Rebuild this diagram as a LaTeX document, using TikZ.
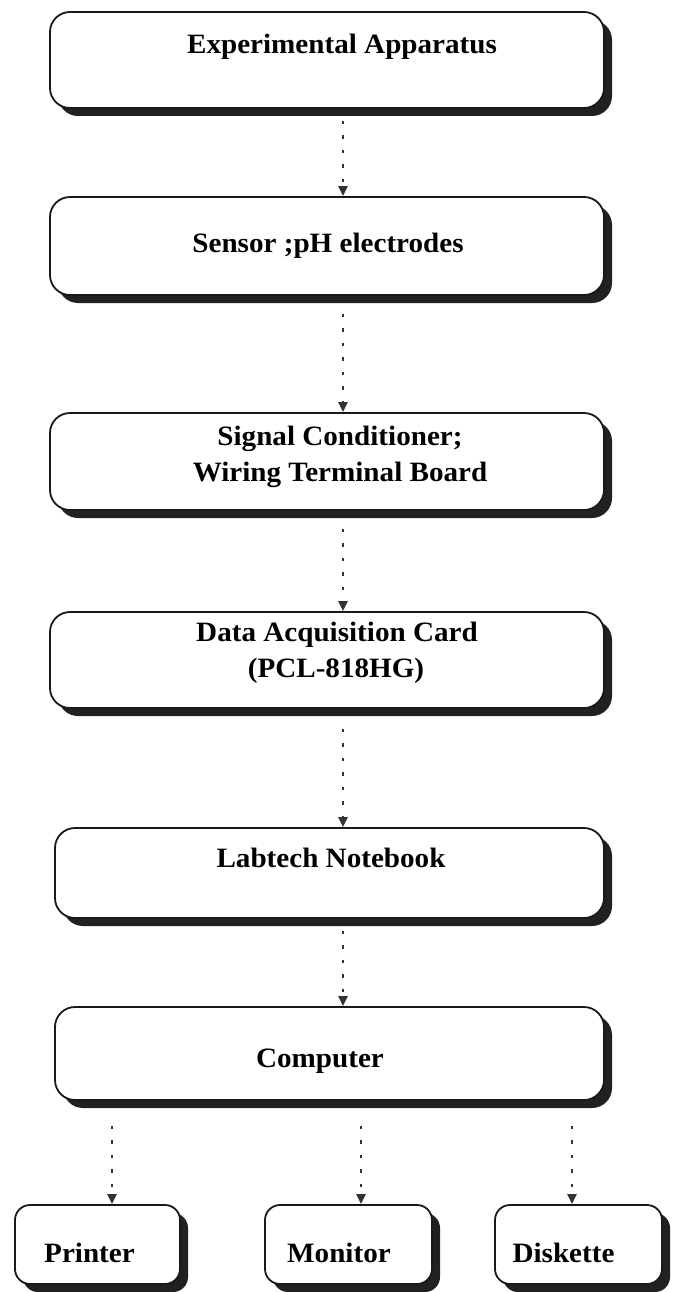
\documentclass[tikz,border=0pt]{standalone}
\usepackage{fontspec}
\setmainfont{Liberation Serif}[FakeStretch=1.04]
\usetikzlibrary{arrows.meta,shadows,calc}

% text line placed relative to the node centre: #1 = right shift,
% #2 = baseline raise, #3 = the text (takes no room of its own)
\newcommand{\boxtext}[3]{\makebox[0pt][l]{\hspace*{#1}\makebox[0pt]{\raisebox{#2}[0pt][0pt]{#3}}}}

\tikzset{
  box/.style={draw=black!90, line width=1.8pt, fill=white, rounded corners=20pt,
    inner sep=0pt, font=\bfseries\fontsize{28}{36}\selectfont,
    general shadow={fill=black!87, shadow xshift=8pt, shadow yshift=-8pt}},
  smallbox/.style={box, rounded corners=15pt},
  flow/.style={line width=2.4pt, draw=black!80, dash pattern=on 3.5pt off 11pt,
    -{Triangle[length=10pt,width=9pt]}},
}

\begin{document}
\begin{tikzpicture}[x=1pt,y=-1pt]
\useasboundingbox (0,0) rectangle (672,1292);

% main chain of boxes
\node[box, minimum width=554pt, minimum height=96pt] (app) at (327,60)
  {\boxtext{15pt}{6.7pt}{Experimental Apparatus}};
\node[box, minimum width=554pt, minimum height=98pt] (sen) at (327,246)
  {\boxtext{1pt}{-6.3pt}{Sensor ;pH electrodes}};
\node[box, minimum width=554pt, minimum height=97pt] (sig) at (327,461.5)
  {\boxtext{13pt}{16.2pt}{Signal Conditioner;}%
   \boxtext{13pt}{-19.8pt}{Wiring Terminal Board}};
\node[box, minimum width=554pt, minimum height=96pt] (daq) at (327,660)
  {\boxtext{10pt}{18.7pt}{Data Acquisition Card}%
   \boxtext{9pt}{-17.3pt}{(PCL-818HG)}};
\node[box, minimum width=549pt, minimum height=90pt] (lab) at (329.5,873)
  {\boxtext{1.5pt}{5.7pt}{Labtech Notebook}};
\node[box, minimum width=549pt, minimum height=93pt] (com) at (329.5,1053.5)
  {\boxtext{-9.5pt}{-13.8pt}{Computer}};

% output devices
\node[smallbox, minimum width=165pt, minimum height=79pt] (prn) at (97.5,1244.5)
  {\boxtext{-8pt}{-17.8pt}{Printer}};
\node[smallbox, minimum width=167pt, minimum height=79pt] (mon) at (348.5,1244.5)
  {\boxtext{-9.5pt}{-17.8pt}{Monitor}};
\node[smallbox, minimum width=167pt, minimum height=79pt] (dsk) at (578.5,1244.5)
  {\boxtext{-15pt}{-17.8pt}{Diskette}};

% connectors
\coordinate (cx) at (343,0);
\draw[flow] ([yshift=-12pt]app.south -| cx) -- (sen.north -| cx);
\draw[flow] ([yshift=-18pt]sen.south -| cx) -- (sig.north -| cx);
\draw[flow] ([yshift=-18pt]sig.south -| cx) -- (daq.north -| cx);
\draw[flow] ([yshift=-20pt]daq.south -| cx) -- (lab.north -| cx);
\draw[flow] ([yshift=-12pt]lab.south -| cx) -- (com.north -| cx);

\coordinate (px) at (112,0);
\coordinate (mx) at (361,0);
\coordinate (dx) at (572,0);
\draw[flow] ([yshift=-25pt]com.south -| px) -- (prn.north -| px);
\draw[flow] ([yshift=-25pt]com.south -| mx) -- (mon.north -| mx);
\draw[flow] ([yshift=-25pt]com.south -| dx) -- (dsk.north -| dx);
\end{tikzpicture}
\end{document}
